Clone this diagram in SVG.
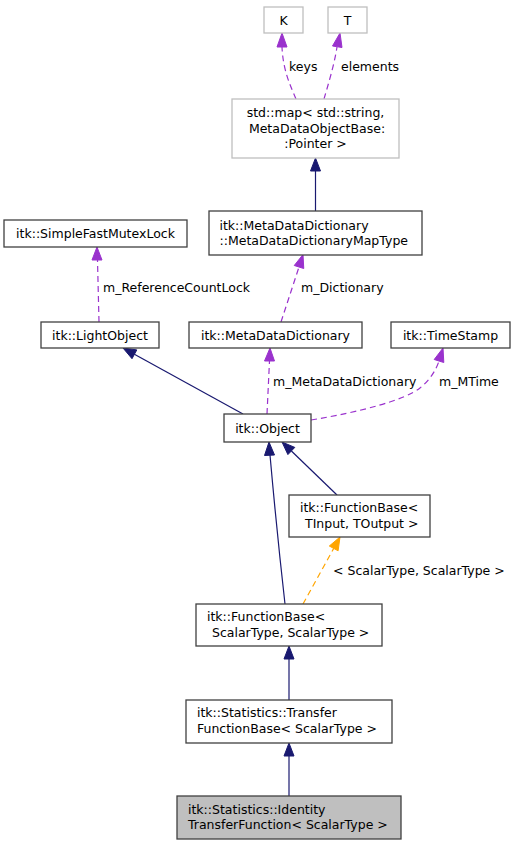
<svg xmlns="http://www.w3.org/2000/svg" width="515" height="845" viewBox="0 0 515 845">
<style>
.n rect{fill:#fff;stroke:#404040;stroke-width:1.3}
.g rect{fill:#fff;stroke:#bfbfbf;stroke-width:1.3}
.hl rect{fill:#bfbfbf;stroke:#404040;stroke-width:1.3}
text{font-family:"DejaVu Sans","Liberation Sans",sans-serif;font-size:12.5px;fill:#000}
.m{text-anchor:middle}
.e{fill:none;stroke-width:1.2}
.b{stroke:#191970}
.p{stroke:#9a32cd;stroke-dasharray:6,4}
.o{stroke:#ffa500;stroke-dasharray:6,4}
.ab{fill:#191970;stroke:#191970}
.ap{fill:#9a32cd;stroke:#9a32cd}
.ao{fill:#ffa500;stroke:#ffa500}
</style>
<rect width="515" height="845" fill="#fff"/>
<g id="edges">
  <path class="e b" d="M315.5,211 L315.5,171"/>
  <polygon class="ab" points="315.5,158 310.5,171 320.5,171"/>
  <path class="e p" d="M296,99 C290,85 283,70 282,47"/>
  <polygon class="ap" points="282,33 277,47 287,47"/>
  <path class="e p" d="M324,99 C328,85 334,66 337,47"/>
  <polygon class="ap" points="340,33 332.5,46 342,47.5"/>
  <path class="e p" d="M281,322 L299,267"/>
  <polygon class="ap" points="303,254.5 303.75,268.5 294.25,265.5"/>
  <path class="e p" d="M99,322 L97.5,260"/>
  <polygon class="ap" points="97,247 92,260 102,260"/>
  <path class="e b" d="M243,414 L134.4,354.3"/>
  <polygon class="ab" points="123,348 136.8,349.9 132,358.7"/>
  <path class="e p" d="M267,414 L269.5,361"/>
  <polygon class="ap" points="270,348 264.5,361 274.5,361"/>
  <path class="e p" d="M311,420 C360,412 405,400 420,388 C430,380 436,370 439,361"/>
  <polygon class="ap" points="443,348 443.8,362.5 434.2,359.5"/>
  <path class="e b" d="M285,604 C280,560 274,500 270,455"/>
  <polygon class="ab" points="269,442 264.5,455.5 274.5,455"/>
  <path class="e b" d="M337,495 L291.4,451"/>
  <polygon class="ab" points="282,442 294.8,447.4 287.9,454.6"/>
  <path class="e o" d="M303,604 L333.7,548.4"/>
  <polygon class="ao" points="340,537 338.1,550.8 329.3,546"/>
  <path class="e b" d="M289,700 L289,659"/>
  <polygon class="ab" points="289,646 284,659 294,659"/>
  <path class="e b" d="M289,796 L289,756"/>
  <polygon class="ab" points="289,743 284,756 294,756"/>
  <text x="289" y="71">keys</text>
  <text x="341" y="71">elements</text>
  <text x="103" y="292">m_ReferenceCountLock</text>
  <text x="301" y="292">m_Dictionary</text>
  <text x="273" y="385.5">m_MetaDataDictionary</text>
  <text x="439" y="385.5">m_MTime</text>
  <text x="333" y="574.5">&lt; ScalarType, ScalarType &gt;</text>
</g>
<g id="K" class="g"><rect x="264" y="7" width="39" height="26"/><text class="m" x="283.5" y="24.5">K</text></g>
<g id="T" class="g"><rect x="328" y="7" width="39" height="26"/><text class="m" x="347.5" y="24.5">T</text></g>
<g id="stdmap" class="g"><rect x="232" y="99" width="167" height="59"/>
  <text class="m" x="315.5" y="117">std::map&lt; std::string,</text>
  <text class="m" x="317" y="132.5">MetaDataObjectBase:</text>
  <text class="m" x="315.5" y="148">:Pointer &gt;</text></g>
<g id="MapType" class="n"><rect x="209" y="211" width="213" height="44"/>
  <text x="219.5" y="229.5">itk::MetaDataDictionary</text>
  <text x="219.5" y="245">::MetaDataDictionaryMapType</text></g>
<g id="SimpleFastMutexLock" class="n"><rect x="4" y="220" width="183" height="27"/><text class="m" x="95.5" y="238">itk::SimpleFastMutexLock</text></g>
<g id="LightObject" class="n"><rect x="41" y="322" width="118" height="26"/><text class="m" x="100" y="339.5">itk::LightObject</text></g>
<g id="MetaDataDictionary" class="n"><rect x="189" y="322" width="173" height="26"/><text class="m" x="275.5" y="339.5">itk::MetaDataDictionary</text></g>
<g id="TimeStamp" class="n"><rect x="391" y="322" width="119" height="26"/><text class="m" x="450.5" y="339.5">itk::TimeStamp</text></g>
<g id="Object" class="n"><rect x="224" y="414" width="87" height="28"/><text class="m" x="267.5" y="432.5">itk::Object</text></g>
<g id="FunctionBaseTInput" class="n"><rect x="289" y="495" width="141" height="42"/>
  <text x="300" y="512">itk::FunctionBase&lt;</text>
  <text x="305" y="527.5">TInput, TOutput &gt;</text></g>
<g id="FunctionBaseScalar" class="n"><rect x="196" y="604" width="186" height="42"/>
  <text x="207" y="621">itk::FunctionBase&lt;</text>
  <text x="212" y="636.5">ScalarType, ScalarType &gt;</text></g>
<g id="TransferFunctionBase" class="n"><rect x="186" y="700" width="206" height="43"/>
  <text x="197" y="716.5">itk::Statistics::Transfer</text>
  <text x="197" y="732.5">FunctionBase&lt; ScalarType &gt;</text></g>
<g id="IdentityTransferFunction" class="hl"><rect x="177" y="796" width="224" height="43"/>
  <text x="188" y="813.5">itk::Statistics::Identity</text>
  <text x="188" y="828.5">TransferFunction&lt; ScalarType &gt;</text></g>
</svg>
